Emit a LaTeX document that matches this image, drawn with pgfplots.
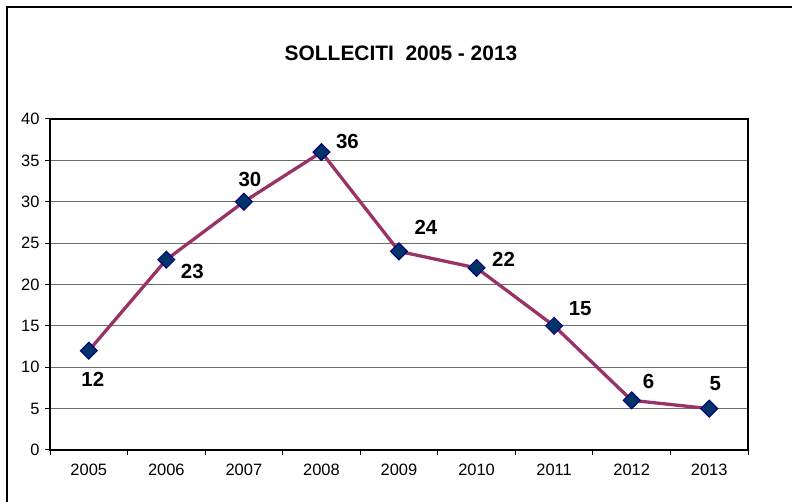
\documentclass[border=0pt]{standalone}
\usepackage{pgfplots}
\pgfplotsset{compat=1.18}
\usepackage{fontspec}
\setmainfont{Liberation Sans}
\definecolor{linec}{HTML}{993366}
\definecolor{markc}{HTML}{003366}
\definecolor{markb}{HTML}{000080}
\begin{document}
\begin{tikzpicture}
\useasboundingbox (0,0) rectangle (792bp,502bp);
\draw[line width=1.2bp] (7bp,0) -- (7bp,495bp) -- (792bp,495bp);
\node[font=\fontsize{21}{25}\selectfont\bfseries] at (401bp,449bp) {SOLLECITI\ \ 2005 - 2013};
\begin{axis}[
  at={(50bp,52bp)}, anchor=south west,
  scale only axis, width=698bp, height=331bp,
  xmin=0.5, xmax=9.5, ymin=0, ymax=40,
  xtick={1,...,9},
  xticklabels={2005,2006,2007,2008,2009,2010,2011,2012,2013},
  minor xtick={0.5,1.5,...,9.5},
  ytick={0,5,...,40},
  major x tick style={draw=none},
  tick align=outside,
  major tick length=5bp, minor tick length=5bp,
  xtick pos=bottom, ytick pos=left,
  tick style={black, line width=1bp},
  ymajorgrids, grid style={draw=gray!85!black, line width=1bp},
  axis line style={black, line width=2bp},
  /pgf/number format/assume math mode=true,
  tick label style={font=\fontsize{16.5}{19}\selectfont},
  xticklabel style={yshift=-6bp},
  yticklabel style={xshift=-2bp},
  clip=false,
]
\addplot[color=linec, line width=3.3bp, mark=square*, mark size=6bp,
  mark options={rotate=45, fill=markc, draw=markb, line width=1bp}]
  coordinates {(1,12) (2,23) (3,30) (4,36) (5,24) (6,22) (7,15) (8,6) (9,5)};
\begin{scope}[every node/.style={font=\fontsize{20.5}{24}\selectfont\bfseries}]
\node at (axis cs:1,12) [xshift=4bp, yshift=-29bp] {12};
\node at (axis cs:2,23) [xshift=26bp, yshift=-12bp] {23};
\node at (axis cs:3,30) [xshift=6bp, yshift=22bp] {30};
\node at (axis cs:4,36) [xshift=26bp, yshift=11bp] {36};
\node at (axis cs:5,24) [xshift=27bp, yshift=24bp] {24};
\node at (axis cs:6,22) [xshift=27bp, yshift=9bp] {22};
\node at (axis cs:7,15) [xshift=26bp, yshift=17bp] {15};
\node at (axis cs:8,6) [xshift=17bp, yshift=19bp] {6};
\node at (axis cs:9,5) [xshift=6bp, yshift=25bp] {5};
\end{scope}
\end{axis}
\end{tikzpicture}
\end{document}
